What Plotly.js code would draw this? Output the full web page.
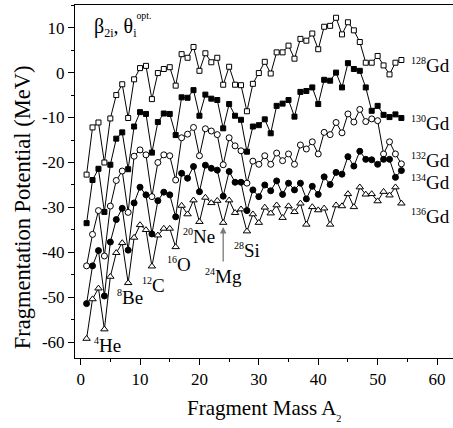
<!DOCTYPE html>
<html><head><meta charset="utf-8">
<script src="https://cdn.plot.ly/plotly-3.0.1.min.js"></script>
<style>html,body{margin:0;padding:0;background:#fff}</style>
</head><body><div id="chart" style="width:453px;height:428px"></div>
<script>
const fragmentMass = [1,2,3,4,5,6,7,8,9,10,11,12,13,14,15,16,17,18,19,20,21,22,23,24,25,26,27,28,29,30,31,32,33,34,35,36,37,38,39,40,41,42,43,44,45,46,47,48,49,50,51,52,53,54];
const gd128 = [-22.7,-12.2,-11.1,-20.0,-10.2,-5.0,-2.6,-10.1,-1.5,1.0,1.5,-5.9,-0.1,0.8,1.2,-2.9,4.1,3.3,5.7,0.4,4.3,2.3,3.3,-2.7,1.3,-2.7,-2.8,-8.6,-2.5,-0.1,2.4,-0.2,4.5,4.5,6.0,3.1,7.5,7.1,8.7,5.2,10.2,10.4,12.2,8.5,11.2,9.4,6.8,2.2,2.2,3.7,1.6,-0.4,2.2,2.8];
const gd130 = [-33.5,-23.9,-21.4,-31.0,-20.5,-14.7,-13.3,-21.5,-12.0,-8.8,-9.2,-17.8,-11.0,-9.1,-9.2,-13.9,-5.5,-5.6,-3.9,-9.6,-4.9,-5.8,-6.1,-12.4,-7.0,-9.6,-10.5,-17.6,-12.0,-11.7,-10.4,-13.5,-7.4,-6.9,-6.1,-9.8,-4.3,-4.1,-3.3,-7.0,-1.6,-1.8,0.0,-3.3,2.1,0.8,0.4,-3.3,-8.5,-7.4,-9.4,-9.9,-9.3,-10.1];
const gd132 = [-43.0,-36.0,-30.7,-40.8,-29.7,-24.0,-21.9,-31.1,-18.6,-17.2,-18.3,-27.6,-20.0,-18.3,-18.5,-23.9,-14.5,-13.7,-12.2,-18.5,-12.5,-13.0,-13.8,-20.5,-14.5,-16.3,-17.4,-24.6,-19.7,-20.4,-18.5,-20.4,-17.9,-19.6,-18.1,-20.4,-16.1,-17.0,-15.4,-18.1,-13.3,-13.8,-11.1,-13.4,-9.2,-11.0,-8.2,-10.9,-10.3,-10.7,-18.1,-15.4,-18.1,-20.3];
const gd134 = [-51.4,-43.0,-39.6,-49.7,-37.7,-32.7,-30.2,-39.5,-29.0,-25.5,-27.2,-35.9,-28.5,-26.6,-27.2,-32.1,-22.4,-23.5,-20.9,-26.5,-20.6,-21.3,-21.7,-27.5,-22.0,-24.4,-24.4,-30.7,-26.1,-27.6,-25.0,-26.3,-24.1,-27.1,-24.6,-26.1,-24.6,-28.1,-25.3,-27.1,-23.2,-24.9,-22.2,-22.6,-18.7,-20.8,-17.5,-19.3,-19.4,-20.4,-19.3,-19.3,-23.3,-21.8];
const gd136 = [-59.2,-50.4,-48.0,-57.1,-45.4,-40.1,-37.9,-46.8,-36.7,-33.9,-35.0,-43.1,-36.2,-34.7,-34.7,-38.8,-29.6,-31.5,-28.4,-33.2,-27.8,-29.0,-28.5,-33.4,-28.4,-31.2,-30.4,-35.3,-31.5,-33.4,-30.0,-31.3,-29.5,-32.3,-29.7,-31.0,-29.1,-33.8,-29.9,-30.6,-30.2,-33.8,-29.5,-29.7,-27.0,-29.9,-25.5,-27.1,-27.0,-28.6,-26.5,-27.3,-25.5,-29.1];
const seriesNames = ['128Gd','130Gd','132Gd','134Gd','136Gd'];
const xTickVals = [0,10,20,30,40,50,60];
const yTickVals = [10,0,-10,-20,-30,-40,-50,-60];
const fragmentLabels = ['4He','8Be','12C','16O','20Ne','24Mg','28Si'];

const FONT = '"Liberation Serif", serif';
function iso(label){
  const m = label.match(/^(\d+)(.*)$/);
  return '<sup><span style="font-size:10px">' + m[1] + '</span></sup>' + m[2];
}
const seriesData = [gd128, gd130, gd132, gd134, gd136];
const styles = [
  {symbol:'square', size:5, color:'#ffffff'},
  {symbol:'square', size:5, color:'#000000'},
  {symbol:'circle', size:6, color:'#ffffff'},
  {symbol:'circle', size:6, color:'#000000'},
  {symbol:'triangle-up', size:6.5, color:'#ffffff'}
];
const traces = seriesData.map((ys, i) => ({
  type:'scatter', mode:'lines+markers', name: seriesNames[i],
  x: fragmentMass, y: ys,
  line:{color:'#000', width:1},
  marker:{symbol:styles[i].symbol, size:styles[i].size, color:styles[i].color, line:{color:'#000', width:1}},
  cliponaxis:false
}));

// label positions (layout only)
const fragPos = [[1.91,-60.67],[5.70,-50.05],[9.99,-47.32],[14.20,-42.65],[16.89,-36.4],[20.64,-45.45],[25.53,-39.53]];
const gdPos = [1.63,-11.28,-19.51,-24.54,-32.10];

const annotations = [];
fragmentLabels.forEach((lab, i) => annotations.push({
  xref:'x', yref:'y', x:fragPos[i][0], y:fragPos[i][1], xanchor:'left', yanchor:'middle',
  text: iso(lab), showarrow:false, font:{family:FONT, size:19, color:'#000'}
}));
seriesNames.forEach((lab, i) => annotations.push({
  xref:'x', yref:'y', x:55.27, y:gdPos[i], xanchor:'left', yanchor:'middle',
  text: iso(lab), showarrow:false, font:{family:FONT, size:19, color:'#000'}
}));
annotations.push({
  xref:'x', yref:'y', x:24, y:-34.35, ax:0, ay:36, text:'', showarrow:true,
  arrowhead:2, arrowsize:1, arrowwidth:1.3, arrowcolor:'#7a7a7a', standoff:0
});
annotations.push({
  xref:'paper', yref:'paper', x:0.045, y:0.944, xanchor:'left', yanchor:'middle', showarrow:false,
  text:'β<sub><span style="font-size:12px">2i</span></sub>, θ<sub><span style="font-size:12px">i</span></sub><sup><sup>opt.</sup></sup>',
  font:{family:FONT, size:20, color:'#000'}
});
annotations.push({
  xref:'paper', yref:'paper', x:-0.1402, y:0.427, xanchor:'center', yanchor:'middle', showarrow:false,
  textangle:-90, text:'Fragmentation Potential (MeV)', font:{family:FONT, size:22.5, color:'#000'}
});
annotations.push({
  xref:'paper', yref:'paper', x:0.5, y:-0.1487, xanchor:'center', yanchor:'middle', showarrow:false,
  text:'Fragment Mass A<sub><sub>2</sub></sub>', font:{family:FONT, size:21, color:'#000'}
});

const axisCommon = {
  showgrid:false, zeroline:false, showline:true, linecolor:'#000', linewidth:1,
  ticks:'outside', ticklen:6, tickwidth:1, tickcolor:'#000',
  tickfont:{family:FONT, size:17, color:'#000'},
  minor:{ticks:'outside', ticklen:3, tickwidth:1, tickcolor:'#000', tickmode:'linear', tick0:0, dtick:5}
};
const layout = {
  width:453, height:428, margin:{l:75, r:0, t:5, b:70},
  paper_bgcolor:'#fff', plot_bgcolor:'#fff', showlegend:false,
  xaxis: Object.assign({}, axisCommon, {range:[-0.95, 62.69], mirror:true, tickmode:'array', tickvals:xTickVals, ticktext:xTickVals.map(String)}),
  yaxis: Object.assign({}, axisCommon, {range:[-63.5, 15.04], mirror:false, tickmode:'array', tickvals:yTickVals, ticktext:yTickVals.map(String)}),
  annotations: annotations,
  font:{family:FONT, color:'#000'}
};
Plotly.newPlot('chart', traces, layout, {staticPlot:true, displayModeBar:false});
</script></body></html>
